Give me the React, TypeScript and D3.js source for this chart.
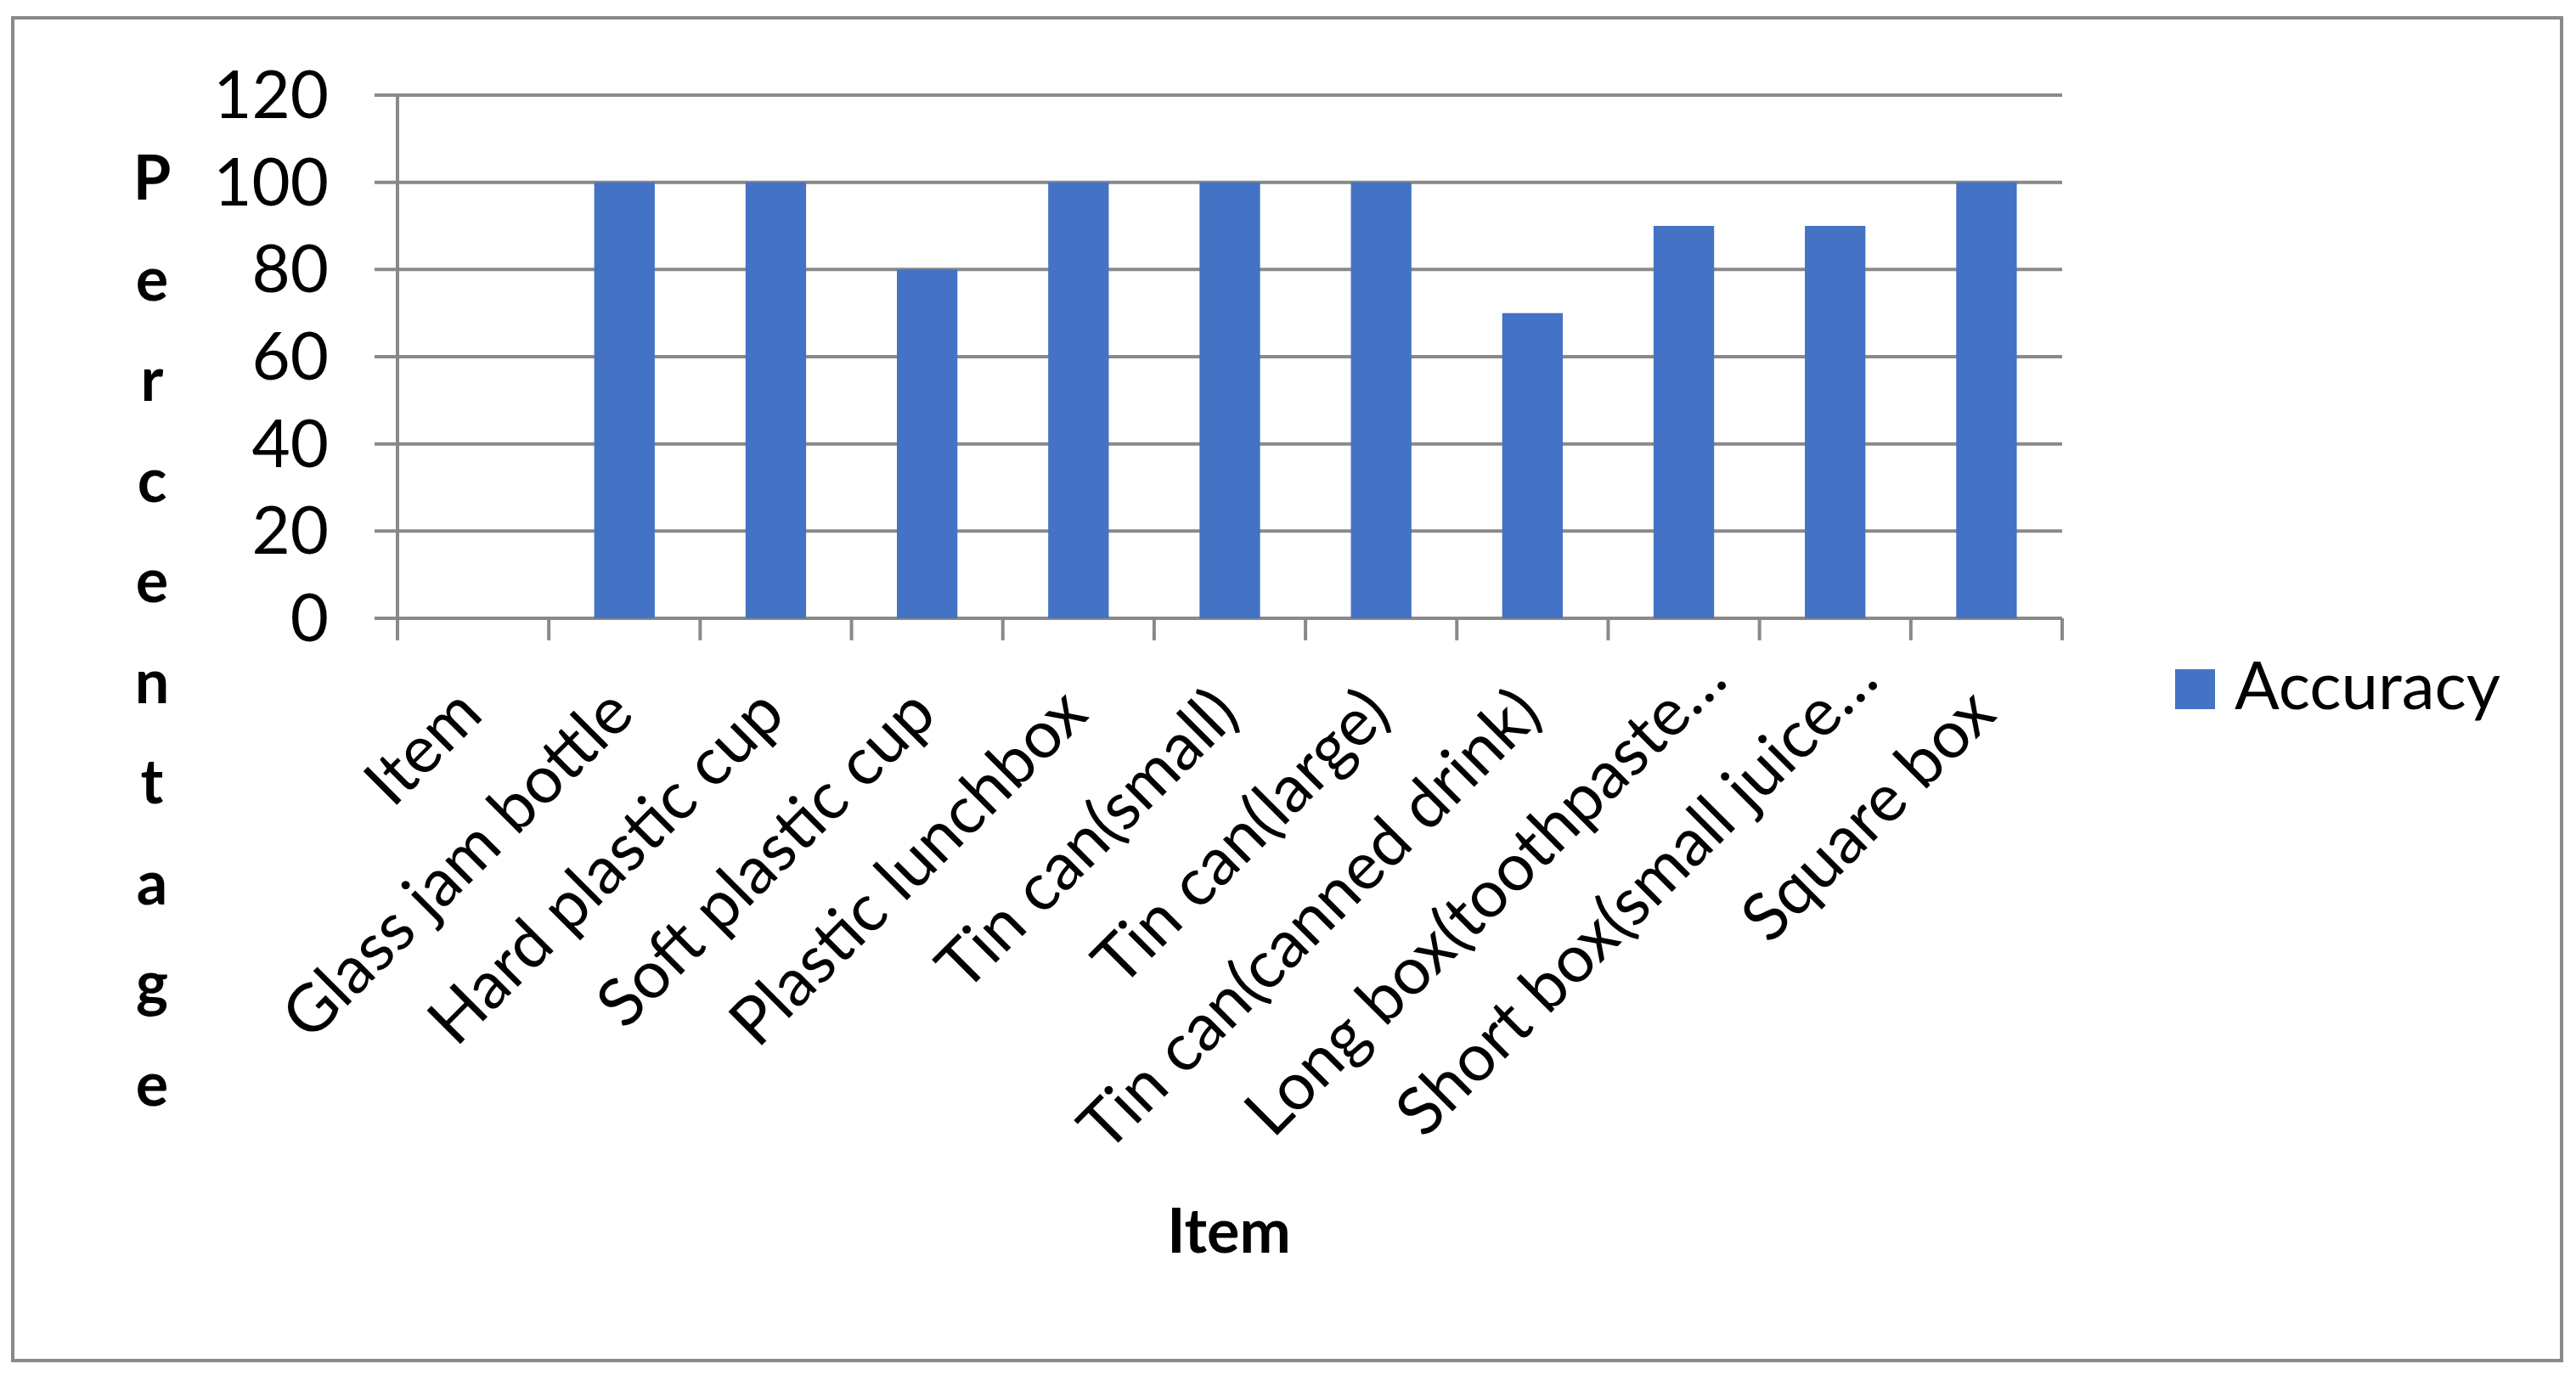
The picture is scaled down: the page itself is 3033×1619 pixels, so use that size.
import React, { useEffect } from 'react';
import * as d3 from 'd3';

const categories = [
  'Item',
  'Glass jam bottle',
  'Hard plastic cup',
  'Soft plastic cup',
  'Plastic lunchbox',
  'Tin can(small)',
  'Tin can(large)',
  'Tin can(canned drink)',
  'Long box(toothpaste…',
  'Short box(small juice…',
  'Square box',
];
const accuracy: (number | null)[] = [null, 100, 100, 80, 100, 100, 100, 70, 90, 90, 100];
const yTicks = [0, 20, 40, 60, 80, 100, 120];
const seriesName = 'Accuracy';
const yTitle = 'Percentage';
const xTitle = 'Item';

const W = 3033;
const H = 1619;
const FONT = 'Lato, Carlito, Calibri, sans-serif';
const GRID = '#898989';
const BAR = '#4472C4';
const LABEL_SIZE = 78;

const App = () => {
  useEffect(() => {
    document.body.style.margin = '0';
  }, []);

  const plot = { left: 468, right: 2428, top: 112, bottom: 728 };

  const x = d3.scaleBand<string>()
    .domain(categories)
    .range([plot.left, plot.right])
    .paddingInner(0.6)
    .paddingOuter(0.3);

  const y = d3.scaleLinear().domain([0, 120]).range([plot.bottom, plot.top]);

  const step = x.step();
  // tick marks sit on the band boundaries
  const boundaries = d3.range(categories.length + 1).map(i => plot.left + i * step);

  return (
    <svg width={W} height={H} style={{ display: 'block', position: 'absolute', left: 0, top: 0 }}
      fontFamily={FONT}>
      <rect x={0} y={0} width={W} height={H} fill="#fff" />
      <rect x={15} y={21} width={3001} height={1581} fill="none" stroke={GRID} strokeWidth={4} />

      {/* gridlines */}
      {yTicks.map(t => (
        <line key={t} x1={plot.left - 27} x2={plot.right} y1={y(t)} y2={y(t)}
          stroke={GRID} strokeWidth={4} />
      ))}

      {/* y axis line */}
      <line x1={plot.left} x2={plot.left} y1={plot.top} y2={plot.bottom + 26} stroke={GRID} strokeWidth={4} />

      {/* category ticks */}
      {boundaries.map((bx, i) => (
        <line key={i} x1={bx} x2={bx} y1={plot.bottom} y2={plot.bottom + 26} stroke={GRID} strokeWidth={4} />
      ))}

      {/* bars */}
      {categories.map((c, i) => {
        const v = accuracy[i];
        if (v == null) return null;
        return (
          <rect key={c} x={x(c)} y={y(v)} width={x.bandwidth()} height={y(0) - y(v)} fill={BAR} />
        );
      })}

      {/* y tick labels */}
      {yTicks.map(t => (
        <text key={t} x={387} y={y(t) + 27} textAnchor="end" fontSize={LABEL_SIZE} fill="#000">{t}</text>
      ))}

      {/* x tick labels, rotated */}
      {categories.map(c => {
        const cx = (x(c) ?? 0) + x.bandwidth() / 2;
        const shift = c.endsWith('…') ? 40 : 0;
        return (
          <text key={c} transform={`translate(${cx + 14 + shift},${plot.bottom + 116 - shift}) rotate(-45)`}
            textAnchor="end" fontSize={LABEL_SIZE} fill="#000">{c}</text>
        );
      })}

      {/* y axis title, stacked letters */}
      {yTitle.split('').map((ch, i) => (
        <text key={i} x={179} y={235 + i * 118.5} textAnchor="middle" fontSize={72}
          fontWeight="bold" fill="#000">{ch}</text>
      ))}

      {/* x axis title */}
      <text x={1447} y={1475} textAnchor="middle" fontSize={72} fontWeight="bold" fill="#000">{xTitle}</text>

      {/* legend */}
      <rect x={2561} y={788} width={47} height={47} fill={BAR} />
      <text x={2631} y={835} fontSize={LABEL_SIZE} fill="#000">{seriesName}</text>
    </svg>
  );
};

export default App;
